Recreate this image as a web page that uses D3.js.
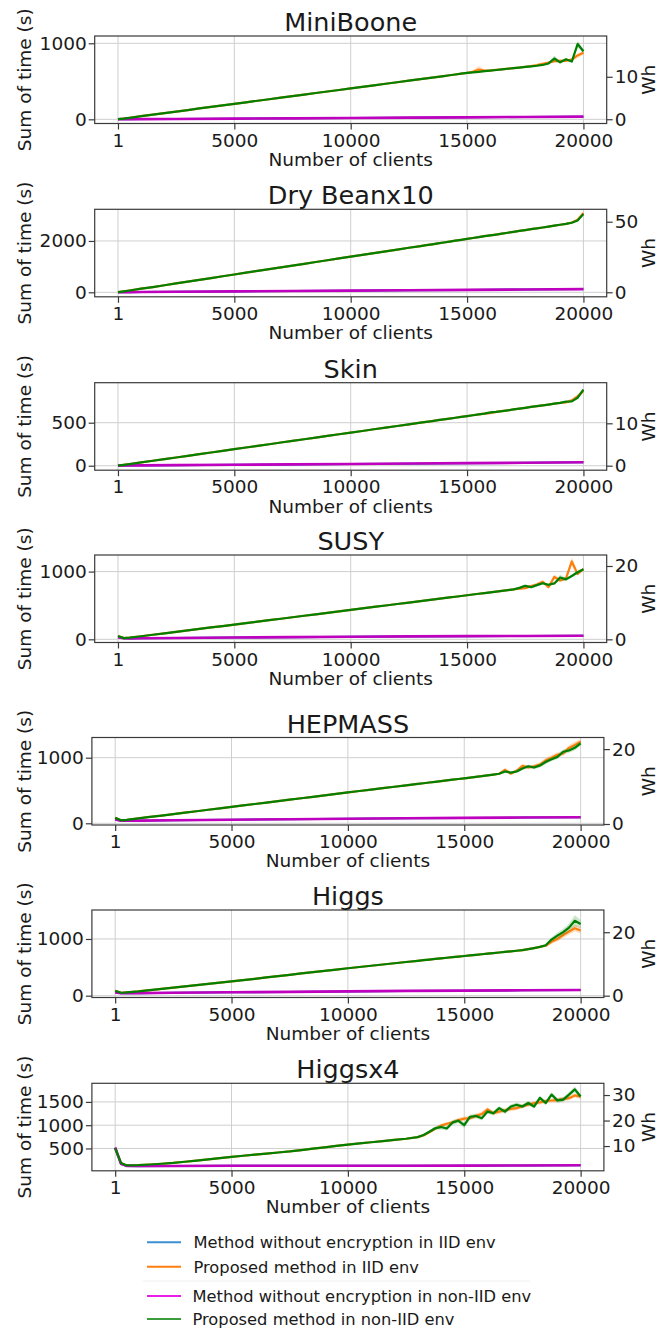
<!DOCTYPE html>
<html><head><meta charset="utf-8">
<script src="https://cdn.jsdelivr.net/npm/d3@7"></script>
<style>
body{margin:0;background:#fff}
svg{display:block}
text{font-family:"DejaVu Sans",sans-serif;fill:#1a1a1a}
</style>
</head><body><svg id="c" width="670" height="1328"></svg>
<script>
// ---------- data ----------
const titles = ["MiniBoone","Dry Beanx10","Skin","SUSY","HEPMASS","Higgs","Higgsx4"];
const xTicks = [1,5000,10000,15000,20000];
const yTicks = [[0,1000],[0,2000],[0,500],[0,1000],[0,1000],[0,1000],[500,1000,1500]];
const whTicks = [[0,10],[0,50],[0,10],[0,20],[0,20],[0,20],[10,20,30]];
const yDomains = [[-55,1096],[-175,3233],[-52,965],[-47,1245],[-26,1308],[-32,1511],[20,1900]];
const whDomains = [[-1,19.6],[-3.2,58.8],[-1.06,19.58],[-0.86,23.0],[-0.27,23.1],[-0.57,27.0],[0.3,34.6]];
const seriesNames = ["Method without encryption in IID env","Proposed method in IID env","Method without encryption in non-IID env","Proposed method in non-IID env"];

// client counts
const xFine = [1,250,500,1000,1500,2000,2500,3000,3500,4000,4500,5000,5500,6000,6500,7000,7500,8000,8500,9000,9500,10000,10500,11000,11500,12000,12500,13000,13250,13500,13750,14000,14250,14500,14750,15000,15250,15500,15750,16000,16250,16500,16750,17000,17250,17500,17750,18000,18250,18500,18750,19000,19250,19500,19750,20000];
const xFlat = [1,250,500,1000,2500,5000,7500,10000,12500,15000,17500,20000];
const xTail = [13000,13250,13500,13750,14000,14250,14500,14750,15000,15250,15500,15750,16000,16250,16500,16750,17000,17250,17500,17750,18000,18250,18500,18750,19000,19250,19500,19750,20000];

// MiniBoone
const miniBooneNonIID = [2,10,20,41,61,82,102,122,143,163,183,203,224,244,264,285,305,325,346,366,386,407,427,447,468,488,508,528,539,549,559,569,580,590,600,610,617,625,633,641,649,657,665,673,681,689,697,705,715,735,800,750,790,760,990,895];
const miniBooneIID = [2,10,20,41,61,82,102,122,143,163,183,203,224,244,264,285,305,325,346,366,386,407,427,447,468,488,508,528,539,549,559,569,580,590,600,610,625,655,640,643,650,658,666,674,682,690,699,712,730,745,765,770,770,785,840,875];
const miniBooneNonIIDSpread = [3,3,3,3,3,3,3,3,3,3,3,3,3,3,3,3,3,3,3,3,5,8,12,40,15,15,12,45,25];
const miniBooneIIDSpread = [3,3,3,3,3,3,3,3,3,20,45,20,3,3,3,3,3,3,3,3,12,15,15,20,20,20,20,30,25];
const miniBooneNoEncNonIID = [1,2,3,3,5,9,13,18,22,26,31,35];
const miniBooneNoEncIID = [1,1,2,3,5,8,13,17,22,26,30,34];

// Dry Beanx10
const dryBeanNonIID = [5,35,70,140,205,275,345,415,485,555,625,695,765,835,905,970,1040,1110,1180,1250,1320,1390,1460,1525,1595,1665,1735,1800,1835,1870,1905,1940,1975,2010,2045,2080,2115,2150,2185,2220,2250,2285,2320,2355,2390,2425,2460,2490,2525,2560,2595,2630,2665,2710,2800,3050];
const dryBeanIID = [5,35,70,140,205,275,345,415,485,555,625,695,765,835,905,970,1040,1110,1180,1250,1320,1390,1460,1525,1595,1665,1735,1800,1835,1870,1905,1940,1975,2010,2045,2080,2115,2150,2185,2220,2250,2285,2320,2355,2390,2425,2460,2490,2525,2560,2595,2630,2665,2720,2830,3090];
const dryBeanNonIIDSpread = [5,5,5,5,5,5,5,5,5,5,5,5,5,5,5,5,5,5,5,5,5,5,5,5,5,5,8,20,30];
const dryBeanIIDSpread = [5,5,5,5,5,5,5,5,5,5,5,5,5,5,5,5,5,5,5,5,5,5,5,5,5,5,8,20,30];
const dryBeanNoEncNonIID = [2,5,8,12,22,35,50,65,80,95,110,125];
const dryBeanNoEncIID = [2,4,7,11,21,34,49,64,79,94,109,124];

// Skin
const skinNonIID = [1,10,19,38,58,77,96,115,135,154,173,193,212,231,250,270,289,308,327,347,366,385,404,424,443,462,481,500,510,519,529,538,548,558,567,577,587,596,606,620,625,635,644,654,663,673,683,692,702,711,721,730,745,748,790,885];
const skinIID = [1,10,19,38,58,77,96,115,135,154,173,193,212,231,250,270,289,308,327,347,366,385,404,424,443,462,481,500,510,519,529,538,548,558,567,577,587,596,606,612,625,635,644,654,663,673,683,692,702,711,721,730,735,760,805,870];
const skinNonIIDSpread = [3,3,3,3,3,3,3,3,3,3,3,3,3,3,3,3,3,3,3,3,3,3,3,3,3,8,8,15,15];
const skinIIDSpread = [3,3,3,3,3,3,3,3,3,3,3,3,3,3,3,3,3,3,3,3,3,3,3,3,3,8,15,25,20];
const skinNoEncNonIID = [1,2,3,4,7,11,16,20,25,30,35,40];
const skinNoEncIID = [1,1,2,3,6,10,15,19,24,29,34,39];

// SUSY
const susyNonIID = [48,18,25,45,67,88,110,131,153,175,196,218,240,261,283,304,326,348,369,391,413,434,456,478,499,521,543,564,575,586,597,608,618,629,640,651,662,673,683,694,705,716,727,738,760,790,770,800,828,805,825,912,885,935,990,1035];
const susyIID = [48,18,25,45,67,88,110,131,153,175,196,218,240,261,283,304,326,348,369,391,413,434,456,478,499,521,543,564,575,586,597,608,618,629,640,651,662,673,683,694,705,716,727,738,748,755,785,810,850,770,922,868,900,1150,965,1035];
const susyNonIIDSpread = [4,4,4,4,4,4,4,4,4,4,4,4,4,4,4,4,4,15,20,15,20,20,15,20,40,25,20,25,15];
const susyIIDSpread = [4,4,4,4,4,4,4,4,4,4,4,4,4,4,4,4,4,15,15,20,20,25,20,35,25,25,60,25,15];
const susyNoEncNonIID = [30,15,14,15,20,26,32,38,43,47,50,53];
const susyNoEncIID = [29,14,13,14,19,25,31,37,42,46,49,52];

// HEPMASS
const hepmassNonIID = [85,45,52,75,97,118,140,162,184,206,228,250,272,294,316,338,360,382,404,426,448,470,492,514,536,557,579,600,611,622,632,643,654,665,675,686,697,708,718,730,742,755,790,772,790,835,870,850,880,935,975,1010,1090,1110,1150,1220];
const hepmassIID = [85,45,52,75,97,118,140,162,184,206,228,250,272,294,316,338,360,382,404,426,448,470,492,514,536,557,579,600,611,622,632,643,654,665,675,686,697,708,718,730,742,755,815,758,800,875,850,870,895,960,1000,1045,1065,1150,1195,1245];
const hepmassNonIIDSpread = [5,5,5,5,5,5,5,5,5,5,5,5,5,5,10,25,20,20,25,25,25,30,30,30,30,35,35,40,35];
const hepmassIIDSpread = [5,5,5,5,5,5,5,5,5,5,5,5,5,5,10,30,25,25,30,30,30,35,35,40,40,40,45,50,40];
const hepmassNoEncNonIID = [60,40,38,40,46,54,62,70,77,83,88,92];
const hepmassNoEncIID = [59,39,37,39,45,53,61,69,76,82,87,91];

// Higgs
const higgsNonIID = [88,52,60,75,97,119,141,163,185,207,230,252,275,298,322,345,368,392,415,438,461,484,506,528,550,572,594,615,626,637,648,658,669,680,690,700,710,721,731,742,752,762,772,782,792,802,820,840,860,890,990,1060,1120,1200,1320,1265];
const higgsIID = [88,52,60,75,97,119,141,163,185,207,230,252,275,298,322,345,368,392,415,438,461,484,506,528,550,572,594,615,626,637,648,658,669,680,690,700,710,721,731,742,752,762,772,782,792,802,820,840,860,880,950,1000,1070,1130,1190,1150];
const higgsNonIIDSpread = [4,4,4,4,4,4,4,4,4,4,4,4,4,4,4,4,4,4,4,4,4,10,20,40,50,60,70,100,70];
const higgsIIDSpread = [4,4,4,4,4,4,4,4,4,4,4,4,4,4,4,4,4,4,4,4,4,10,20,35,45,50,55,60,55];
const higgsNoEncNonIID = [55,45,42,45,52,60,68,76,84,90,95,100];
const higgsNoEncIID = [54,44,41,44,51,59,67,75,83,89,94,99];

// Higgsx4
const higgsx4NonIID = [505,190,135,140,155,172,189,214,240,266,293,320,343,366,390,413,436,465,495,524,554,583,608,633,658,683,708,744,790,860,935,960,930,1060,1094,1000,1182,1197,1150,1292,1256,1366,1292,1400,1439,1401,1476,1401,1586,1476,1658,1533,1548,1658,1770,1615];
const higgsx4IID = [505,190,135,140,155,172,189,214,240,266,293,320,343,366,390,413,436,465,495,524,554,583,608,633,658,683,708,744,780,850,920,990,1030,1060,1110,1140,1150,1200,1240,1340,1260,1290,1320,1350,1366,1410,1440,1476,1490,1520,1530,1540,1560,1580,1640,1610];
const higgsx4NonIIDSpread = [10,20,30,40,50,45,50,45,60,50,45,50,45,50,45,50,45,50,45,50,50,50,50,55,50,50,50,60,50];
const higgsx4IIDSpread = [10,20,30,35,40,40,40,45,45,45,50,50,45,45,45,45,45,45,45,45,45,45,45,45,45,45,45,45,45];
const higgsx4NoEncNonIID = [520,170,125,122,122,128,130,128,130,132,135,138];
const higgsx4NoEncIID = [515,165,122,120,121,126,129,127,129,131,134,137];

// ---------- assemble ----------
const nonIID = [miniBooneNonIID,dryBeanNonIID,skinNonIID,susyNonIID,hepmassNonIID,higgsNonIID,higgsx4NonIID];
const iid = [miniBooneIID,dryBeanIID,skinIID,susyIID,hepmassIID,higgsIID,higgsx4IID];
const nonIIDSpread = [miniBooneNonIIDSpread,dryBeanNonIIDSpread,skinNonIIDSpread,susyNonIIDSpread,hepmassNonIIDSpread,higgsNonIIDSpread,higgsx4NonIIDSpread];
const iidSpread = [miniBooneIIDSpread,dryBeanIIDSpread,skinIIDSpread,susyIIDSpread,hepmassIIDSpread,higgsIIDSpread,higgsx4IIDSpread];
const noEncNonIID = [miniBooneNoEncNonIID,dryBeanNoEncNonIID,skinNoEncNonIID,susyNoEncNonIID,hepmassNoEncNonIID,higgsNoEncNonIID,higgsx4NoEncNonIID];
const noEncIID = [miniBooneNoEncIID,dryBeanNoEncIID,skinNoEncIID,susyNoEncIID,hepmassNoEncIID,higgsNoEncIID,higgsx4NoEncIID];

const colors = {blue:"#1f77b4", orange:"#ff7f0e", magenta:"#bf00bf", green:"#008000"};
const legendColors = ["#3d8fd1","#ff7f0e","#e61ee6","#3a9c3a"];

// ---------- layout ----------
const svg = d3.select("#c");
const tops = [36,209.3,382.7,555,737.5,910,1083.3];
const lefts = [94.7,94.7,94.7,94.7,91.9,91.9,91.9];
const W = 512, H = 87.5;
const FS = 18.5;
const tailIdx = xFine.indexOf(xTail[0]);

titles.forEach((title, p) => {
  const g = svg.append("g").attr("transform", `translate(${lefts[p]},${tops[p]})`);
  const x = d3.scaleLinear().domain([-999, 21000]).range([0, W]);
  const y = d3.scaleLinear().domain(yDomains[p]).range([H, 0]);
  const yr = d3.scaleLinear().domain(whDomains[p]).range([H, 0]);

  const clipId = "clip" + p;
  g.append("clipPath").attr("id", clipId).append("rect").attr("width", W).attr("height", H);

  // grid
  const grid = g.append("g").attr("stroke", "#cfcfcf").attr("stroke-width", 1);
  grid.selectAll(".vx").data(xTicks).join("line")
    .attr("x1", d => x(d)).attr("x2", d => x(d)).attr("y1", 0).attr("y2", H);
  grid.selectAll(".hy").data(yTicks[p]).join("line")
    .attr("x1", 0).attr("x2", W).attr("y1", d => y(d)).attr("y2", d => y(d));

  const plot = g.append("g").attr("clip-path", `url(#${clipId})`);
  const line = d3.line().x(d => x(d[0])).y(d => y(d[1]));
  const band = d3.area().x(d => x(d[0])).y0(d => y(d[1] - d[2])).y1(d => y(d[1] + d[2]));

  const flatB = xFlat.map((xv, i) => [xv, noEncIID[p][i]]);
  const flatM = xFlat.map((xv, i) => [xv, noEncNonIID[p][i]]);
  const fineO = xFine.map((xv, i) => [xv, iid[p][i]]);
  const fineG = xFine.map((xv, i) => [xv, nonIID[p][i]]);
  const bandO = xTail.map((xv, i) => [xv, iid[p][tailIdx + i], iidSpread[p][i]]);
  const bandG = xTail.map((xv, i) => [xv, nonIID[p][tailIdx + i], nonIIDSpread[p][i]]);

  plot.append("path").attr("d", line(flatB)).attr("fill", "none").attr("stroke", colors.blue).attr("stroke-width", 2);
  plot.append("path").attr("d", band(bandO)).attr("fill", colors.orange).attr("opacity", 0.25);
  plot.append("path").attr("d", line(fineO)).attr("fill", "none").attr("stroke", colors.orange).attr("stroke-width", 2.2).attr("stroke-linejoin", "round");
  plot.append("path").attr("d", line(flatM)).attr("fill", "none").attr("stroke", colors.magenta).attr("stroke-width", 2.6);
  plot.append("path").attr("d", band(bandG)).attr("fill", colors.green).attr("opacity", 0.2);
  plot.append("path").attr("d", line(fineG)).attr("fill", "none").attr("stroke", colors.green).attr("stroke-width", 2.2).attr("stroke-linejoin", "round");

  // frame
  g.append("rect").attr("width", W).attr("height", H).attr("fill", "none").attr("stroke", "#3a3a3a").attr("stroke-width", 1.2);

  // axes
  const styleAxis = sel => {
    sel.select(".domain").remove();
    sel.selectAll(".tick line").attr("stroke", "#3a3a3a").attr("stroke-width", 1.2);
    sel.selectAll(".tick text").attr("font-size", FS).attr("font-family", '"DejaVu Sans",sans-serif').attr("fill", "#1a1a1a");
  };
  g.append("g").attr("transform", `translate(0,${H})`)
    .call(d3.axisBottom(x).tickValues(xTicks).tickFormat(d3.format("d")).tickSize(6).tickPadding(4))
    .call(styleAxis);
  g.append("g")
    .call(d3.axisLeft(y).tickValues(yTicks[p]).tickFormat(d3.format("d")).tickSize(6).tickPadding(2))
    .call(styleAxis);
  g.append("g").attr("transform", `translate(${W},0)`)
    .call(d3.axisRight(yr).tickValues(whTicks[p]).tickFormat(d3.format("d")).tickSize(6).tickPadding(2))
    .call(styleAxis);

  // labels
  g.append("text").attr("x", W / 2).attr("y", -5).attr("text-anchor", "middle")
    .attr("font-size", 25.5).text(title);
  g.append("text").attr("x", W / 2).attr("y", H + 42.4).attr("text-anchor", "middle")
    .attr("font-size", FS).text("Number of clients");
  g.append("text").attr("transform", `translate(${31 - lefts[p]},${H / 2}) rotate(-90)`)
    .attr("text-anchor", "middle").attr("font-size", FS).text("Sum of time (s)");
  g.append("text").attr("transform", `translate(${655 - lefts[p]},${H / 2}) rotate(-90)`)
    .attr("text-anchor", "middle").attr("font-size", FS).text("Wh");
});

// ---------- legend ----------
const legendY = [1242.3, 1266.7, 1296, 1319];
const legend = svg.append("g");
legend.append("line").attr("x1", 143).attr("x2", 530).attr("y1", 1281).attr("y2", 1281)
  .attr("stroke", "#f0f0f0").attr("stroke-width", 1);
seriesNames.forEach((name, i) => {
  legend.append("line").attr("x1", 147).attr("x2", 181).attr("y1", legendY[i]).attr("y2", legendY[i])
    .attr("stroke", legendColors[i]).attr("stroke-width", 2);
  legend.append("text").attr("x", i < 2 ? 193.5 : 192.5).attr("y", legendY[i] + 6)
    .attr("font-size", 16.3).attr("fill", "#262626").text(name);
});
</script>
</body></html>
